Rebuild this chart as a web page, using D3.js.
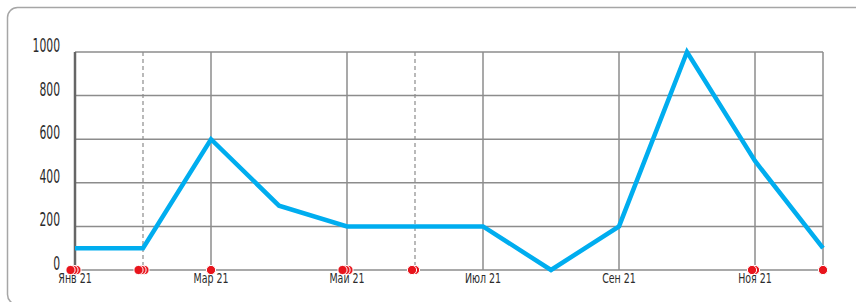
<!DOCTYPE html>
<html>
<head>
<meta charset="utf-8">
<script src="https://cdn.jsdelivr.net/npm/d3@7"></script>
<style>
  body { margin: 0; background: #fff; }
  svg text { font-family: "DejaVu Sans Condensed", "Liberation Sans Narrow", "Roboto", sans-serif; fill: #2b2b2b; }
</style>
</head>
<body>
<div id="chart"></div>
<script>
// months on the x axis
const months = ["Янв 21", "Фев 21", "Мар 21", "Апр 21", "Май 21", "Июн 21",
                "Июл 21", "Авг 21", "Сен 21", "Окт 21", "Ноя 21", "Дек 21"];
// series values
const values = [100, 100, 600, 295, 200, 200, 200, 0, 200, 1000, 500, 100];
// number of event markers per month
const eventCounts = [3, 3, 1, 0, 3, 2, 0, 0, 0, 0, 2, 1];
// months with a dashed event line
const dashedMonths = ["Фев 21", "Июн 21"];
// labelled months (solid gridlines)
const labelMonths = ["Янв 21", "Мар 21", "Май 21", "Июл 21", "Сен 21", "Ноя 21"];
const yTicks = [0, 200, 400, 600, 800, 1000];

const width = 856, height = 302;
const margin = {top: 52, right: 33, bottom: 32, left: 75};
const innerW = width - margin.left - margin.right;
const innerH = height - margin.top - margin.bottom;

const svg = d3.select("#chart").append("svg")
    .attr("width", width)
    .attr("height", height);

// card frame, runs off the right and bottom edge
svg.append("rect")
    .attr("x", 7.5).attr("y", 7.5)
    .attr("width", 900).attr("height", 297)
    .attr("rx", 10)
    .attr("fill", "none")
    .attr("stroke", "#a6a6a6")
    .attr("stroke-width", 1.5);

const g = svg.append("g")
    .attr("transform", "translate(" + margin.left + "," + margin.top + ")");

const x = d3.scalePoint().domain(months).range([0, innerW]);
const y = d3.scaleLinear().domain([0, 1000]).range([innerH, 0]);

// horizontal gridlines
g.append("g")
    .selectAll("line")
    .data(yTicks.filter(d => d > 0))
    .join("line")
    .attr("x1", 0).attr("x2", innerW)
    .attr("y1", d => y(d)).attr("y2", d => y(d))
    .attr("stroke", "#8c8c8c")
    .attr("stroke-width", 1.5);

// solid vertical gridlines
g.append("g")
    .selectAll("line")
    .data(labelMonths.slice(1).concat([months[months.length - 1]]))
    .join("line")
    .attr("x1", d => x(d)).attr("x2", d => x(d))
    .attr("y1", 0).attr("y2", innerH)
    .attr("stroke", "#8c8c8c")
    .attr("stroke-width", 1.5);

// dashed event lines
g.append("g")
    .selectAll("line")
    .data(dashedMonths)
    .join("line")
    .attr("x1", d => x(d)).attr("x2", d => x(d))
    .attr("y1", 0).attr("y2", innerH)
    .attr("stroke", "#8c8c8c")
    .attr("stroke-width", 1.2)
    .attr("stroke-dasharray", "4,3");

// x baseline
g.append("line")
    .attr("x1", 0).attr("x2", innerW)
    .attr("y1", y(0)).attr("y2", y(0))
    .attr("stroke", "#8c8c8c")
    .attr("stroke-width", 1.5);

// left axis line
g.append("line")
    .attr("x1", 0).attr("x2", 0)
    .attr("y1", 0).attr("y2", innerH)
    .attr("stroke", "#666")
    .attr("stroke-width", 2.5);

// y labels (squeezed to look like a narrow font)
g.append("g")
    .selectAll("text")
    .data(yTicks)
    .join("text")
    .attr("transform", d => "translate(-15," + y(d) + ") scale(0.6,1)")
    .attr("text-anchor", "end")
    .attr("font-size", 20)
    .text(d => d);

// x labels
g.append("g")
    .selectAll("text")
    .data(labelMonths)
    .join("text")
    .attr("transform", d => "translate(" + x(d) + "," + (innerH + 13) + ") scale(0.78,1)")
    .attr("text-anchor", "middle")
    .attr("font-size", 13.5)
    .text(d => d);

// series line
const line = d3.line()
    .x((d, i) => x(months[i]))
    .y(d => y(d));

g.append("path")
    .datum(values)
    .attr("d", line)
    .attr("fill", "none")
    .attr("stroke", "#00adef")
    .attr("stroke-width", 4.5)
    .attr("stroke-linejoin", "miter");

// event markers, dodged a little when several fall in one month
const events = [];
eventCounts.forEach((n, mi) => {
    for (let i = n - 1; i >= 0; i--) {
        const off = n > 1 ? i * 3 - 4.5 + (n === 2 ? 1.5 : 0) : 0;
        events.push({month: months[mi], off: off});
    }
});

g.append("g")
    .selectAll("circle")
    .data(events)
    .join("circle")
    .attr("cx", d => x(d.month) + d.off)
    .attr("cy", y(0))
    .attr("r", 4.6)
    .attr("fill", "#e8141c")
    .attr("stroke", "#fff")
    .attr("stroke-width", 1);
</script>
</body>
</html>
